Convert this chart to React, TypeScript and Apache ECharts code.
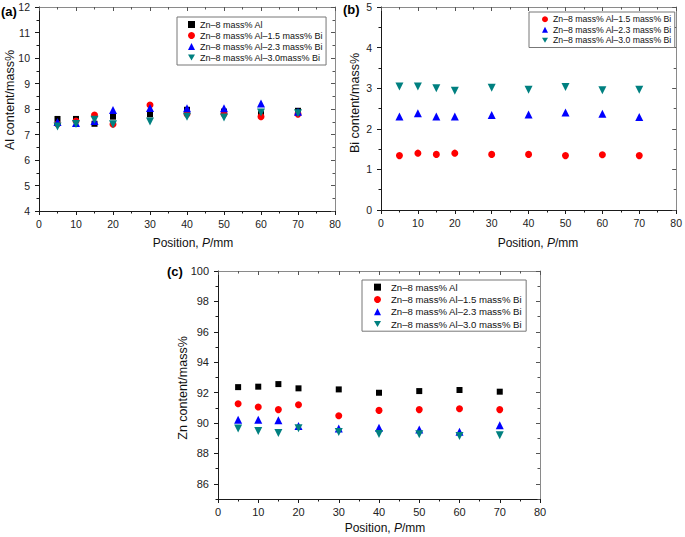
import React, { useEffect, useRef } from 'react';
import * as echarts from 'echarts';

// ---------- data ----------
const positions = [5, 10, 15, 20, 30, 40, 50, 60, 70];

const NAME_AL = 'Zn–8 mass% Al';
const NAME_BI15 = 'Zn–8 mass% Al–1.5 mass% Bi';
const NAME_BI23 = 'Zn–8 mass% Al–2.3 mass% Bi';
const NAME_BI30 = 'Zn–8 mass% Al–3.0 mass% Bi';
const NAME_BI30_A = 'Zn–8 mass% Al–3.0mass% Bi';

// (a) Al content / mass%
const alContent_Al = [7.61, 7.61, 7.42, 7.7, 7.79, 7.97, 7.9, 7.8, 7.93];
const alContent_Bi15 = [7.41, 7.53, 7.76, 7.4, 8.16, 7.8, 7.8, 7.7, 7.8];
const alContent_Bi23 = [7.49, 7.45, 7.53, 7.96, 8.04, 8.03, 8.03, 8.22, 7.89];
const alContent_Bi30 = [7.31, 7.41, 7.58, 7.4, 7.51, 7.7, 7.67, 7.86, 7.83];

// (b) Bi content / mass%
const biContent_Bi15 = [1.34, 1.4, 1.37, 1.4, 1.37, 1.37, 1.34, 1.36, 1.34];
const biContent_Bi23 = [2.3, 2.38, 2.3, 2.3, 2.34, 2.35, 2.4, 2.37, 2.29];
const biContent_Bi30 = [3.04, 3.04, 3.0, 2.94, 3.01, 2.96, 3.03, 2.95, 2.96];

// (c) Zn content / mass%
const znContent_Al = [92.36, 92.39, 92.56, 92.28, 92.21, 91.99, 92.1, 92.17, 92.06];
const znContent_Bi15 = [91.27, 91.05, 90.88, 91.2, 90.48, 90.83, 90.88, 90.94, 90.88];
const znContent_Bi23 = [90.22, 90.22, 90.18, 89.8, 89.63, 89.69, 89.58, 89.43, 89.85];
const znContent_Bi30 = [89.63, 89.48, 89.34, 89.65, 89.41, 89.28, 89.26, 89.15, 89.19];

const znMajorTicks = [86, 88, 90, 92, 94, 96, 98, 100];
const znMinorTicks = [85, 87, 89, 91, 93, 95, 97, 99];

// ---------- styles ----------
const FONT = 'Arial, "Liberation Sans", sans-serif';
const DARK = '#1a1a1a';
const FRAME = '#8a8a8a';
const TEXT = '#222';

const COLOR = {
  al: '#000000',
  bi15: '#ff0000',
  bi23: '#0000ff',
  bi30: '#008080',
};
const SYMBOL = {
  al: 'rect',
  bi15: 'circle',
  bi23: 'triangle',
  bi30: 'path://M0,0L10,0L5,8.66Z',
};
const SIZE = { al: 6, bi15: 7, bi23: 8, bi30: 8 };

function xAxesFor(gridIndex: number, labelSize: number) {
  return [
    {
      type: 'value', gridIndex, position: 'bottom', min: 0, max: 80, interval: 10,
      axisLine: { show: true, onZero: false, lineStyle: { color: DARK, width: 1 } },
      axisTick: { show: true, inside: false, length: 4, lineStyle: { color: DARK } },
      minorTick: { show: true, splitNumber: 2, length: 2.5, lineStyle: { color: DARK } },
      axisLabel: { show: true, margin: 7, fontSize: labelSize, color: TEXT, fontFamily: FONT },
      splitLine: { show: false }, minorSplitLine: { show: false },
    },
    {
      type: 'value', gridIndex, position: 'top', min: 0, max: 80, interval: 10,
      axisLine: { show: true, onZero: false, lineStyle: { color: FRAME, width: 1 } },
      axisTick: { show: true, inside: true, length: 4, lineStyle: { color: '#555' } },
      minorTick: { show: true, splitNumber: 2, length: 2.5, lineStyle: { color: '#555' } },
      axisLabel: { show: false },
      splitLine: { show: false }, minorSplitLine: { show: false },
    },
  ];
}

function yAxesFor(gridIndex: number, min: number, max: number, labelSize: number) {
  return [
    {
      type: 'value', gridIndex, position: 'left', min, max, interval: 1,
      axisLine: { show: true, onZero: false, lineStyle: { color: DARK, width: 1 } },
      axisTick: { show: true, inside: false, length: 4, lineStyle: { color: DARK } },
      minorTick: { show: true, splitNumber: 2, length: 2.5, lineStyle: { color: DARK } },
      axisLabel: { show: true, margin: 9, fontSize: labelSize, color: TEXT, fontFamily: FONT },
      splitLine: { show: false }, minorSplitLine: { show: false },
    },
    {
      type: 'value', gridIndex, position: 'right', min, max, interval: 1,
      axisLine: { show: true, onZero: false, lineStyle: { color: FRAME, width: 1 } },
      axisTick: { show: true, inside: true, length: 4, lineStyle: { color: '#555' } },
      minorTick: { show: true, splitNumber: 2, length: 2.5, lineStyle: { color: '#555' } },
      axisLabel: { show: false },
      splitLine: { show: false }, minorSplitLine: { show: false },
    },
  ];
}

function zincYAxes(gridIndex: number, labelSize: number) {
  const base = { type: 'value', gridIndex, min: 85, max: 100, interval: 1, splitLine: { show: false }, minorTick: { show: false } };
  return [
    {
      ...base, position: 'left',
      axisLine: { show: true, onZero: false, lineStyle: { color: DARK, width: 1 } },
      axisTick: { show: true, inside: false, length: 4, customValues: znMajorTicks, lineStyle: { color: DARK } },
      axisLabel: { show: true, margin: 9, fontSize: labelSize, color: TEXT, fontFamily: FONT, customValues: znMajorTicks },
    },
    {
      ...base, position: 'right',
      axisLine: { show: true, onZero: false, lineStyle: { color: FRAME, width: 1 } },
      axisTick: { show: true, inside: true, length: 4, customValues: znMajorTicks, lineStyle: { color: '#555' } },
      axisLabel: { show: false },
    },
    {
      ...base, position: 'left',
      axisLine: { show: false, onZero: false },
      axisTick: { show: true, inside: false, length: 2.5, customValues: znMinorTicks, lineStyle: { color: DARK } },
      axisLabel: { show: false },
    },
    {
      ...base, position: 'right',
      axisLine: { show: false, onZero: false },
      axisTick: { show: true, inside: true, length: 2.5, customValues: znMinorTicks, lineStyle: { color: '#555' } },
      axisLabel: { show: false },
    },
  ];
}

function scatter(name: string, key: keyof typeof COLOR, values: number[], axisIdx: number) {
  return {
    type: 'scatter',
    name,
    xAxisIndex: axisIdx,
    yAxisIndex: axisIdx,
    symbol: SYMBOL[key],
    symbolSize: SIZE[key],
    itemStyle: { color: COLOR[key], opacity: 1 },
    data: positions.map((p, i) => [p, values[i]]),
    z: 3,
  };
}

function titleText(text: string, x: number, y: number, size: number, rotate = false) {
  return {
    type: 'text',
    x, y,
    rotation: rotate ? Math.PI / 2 : 0,
    style: {
      text, fontSize: size, fontFamily: FONT, fill: '#111',
      align: 'center', verticalAlign: 'middle',
      rich: { i: { fontStyle: 'italic', fontSize: size, fontFamily: FONT, fill: '#111' } },
    },
  };
}

function panelLabel(text: string, x: number, y: number) {
  return {
    type: 'text', x, y,
    style: { text, fontSize: 13, fontWeight: 'bold', fontFamily: FONT, fill: '#000', align: 'left', verticalAlign: 'middle' },
  };
}

function legendBox(left: number, top: number, names: string[], fontSize: number, lineHeight: number, icon: number, padding: number[], textPad = 0) {
  return {
    orient: 'vertical', left, top,
    itemWidth: icon, itemHeight: icon, itemGap: 0,
    padding,
    borderColor: '#777', borderWidth: 1, borderRadius: 0,
    backgroundColor: '#fff',
    selectedMode: false,
    data: names,
    textStyle: { fontSize, lineHeight, fontFamily: FONT, color: '#111', padding: [0, 0, 0, textPad] },
  };
}

export default function App() {
  const ref = useRef<HTMLDivElement>(null);

  useEffect(() => {
    if (!ref.current) return;
    const chart = echarts.init(ref.current, undefined, { renderer: 'svg' });
    const option: any = {
      animation: false,
      backgroundColor: '#fff',
      grid: [
        { left: 39, top: 7, width: 296, height: 204, containLabel: false },
        { left: 381, top: 7, width: 298, height: 203, containLabel: false },
        { left: 218, top: 271, width: 322, height: 228, containLabel: false },
      ],
      xAxis: [...xAxesFor(0, 10.5), ...xAxesFor(1, 10.5), ...xAxesFor(2, 11)],
      yAxis: [...yAxesFor(0, 4, 12, 10.5), ...yAxesFor(1, 0, 5, 10.5), ...zincYAxes(2, 11)],
      legend: [
        legendBox(177, 17, [NAME_AL, NAME_BI15, NAME_BI23, NAME_BI30_A], 9, 11, 7, [2, 3, 2, 11]),
        legendBox(529, 12, [NAME_BI15, NAME_BI23, NAME_BI30], 8.7, 10.5, 6, [2, 3, 2, 13]),
        legendBox(362, 280, [NAME_AL, NAME_BI15, NAME_BI23, NAME_BI30], 9.6, 12.3, 7, [1, 4, 1, 12], 5),
      ],
      graphic: [
        panelLabel('(a)', 1, 11),
        panelLabel('(b)', 343, 9),
        panelLabel('(c)', 167, 271),
        titleText('Al content/mass%', 10, 100, 12.5, true),
        titleText('Bi content/mass%', 355, 103, 12.5, true),
        titleText('Zn content/mass%', 183, 388, 12.5, true),
        titleText('Position, {i|P}/mm', 193, 243, 12),
        titleText('Position, {i|P}/mm', 538, 243, 12),
        titleText('Position, {i|P}/mm', 385, 528, 12),
      ],
      series: [
        scatter(NAME_AL, 'al', alContent_Al, 0),
        scatter(NAME_BI15, 'bi15', alContent_Bi15, 0),
        scatter(NAME_BI23, 'bi23', alContent_Bi23, 0),
        scatter(NAME_BI30_A, 'bi30', alContent_Bi30, 0),

        scatter(NAME_BI15, 'bi15', biContent_Bi15, 2),
        scatter(NAME_BI23, 'bi23', biContent_Bi23, 2),
        scatter(NAME_BI30, 'bi30', biContent_Bi30, 2),

        scatter(NAME_AL, 'al', znContent_Al, 4),
        scatter(NAME_BI15, 'bi15', znContent_Bi15, 4),
        scatter(NAME_BI23, 'bi23', znContent_Bi23, 4),
        scatter(NAME_BI30, 'bi30', znContent_Bi30, 4),
      ],
    };
    chart.setOption(option);
    return () => chart.dispose();
  }, []);

  return (
    <div
      ref={ref}
      style={{ position: 'absolute', left: 0, top: 0, width: 685, height: 537, background: '#fff' }}
    />
  );
}
